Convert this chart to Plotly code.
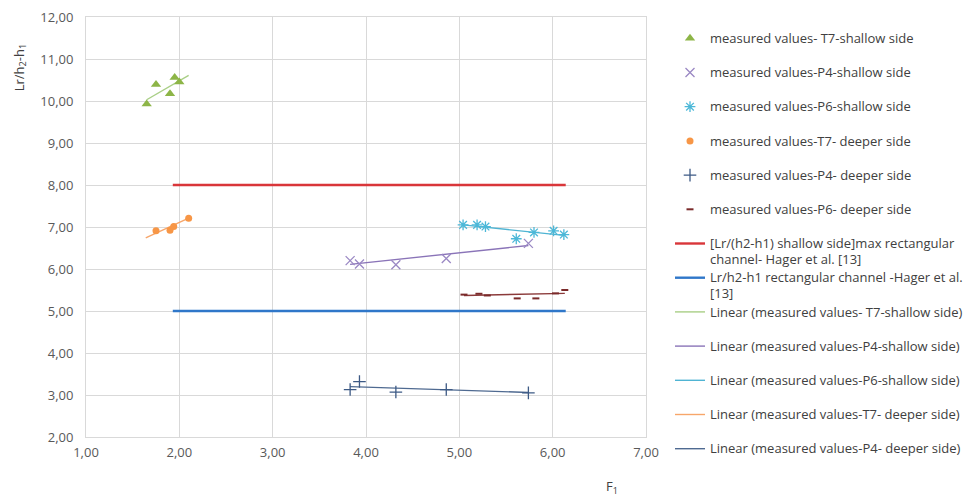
import plotly.graph_objects as go

# ---- data ----
t7s_x = [1.65, 1.75, 1.90, 1.95, 2.00]
t7s_y = [9.93, 10.39, 10.17, 10.56, 10.45]
t7s_tx = [1.65, 2.10]
t7s_ty = [10.03, 10.61]

p4s_x = [3.83, 3.93, 4.32, 4.86, 5.74]
p4s_y = [6.20, 6.12, 6.10, 6.25, 6.61]
p4s_tx = [3.83, 5.74]
p4s_ty = [6.11, 6.56]

p6s_x = [5.04, 5.19, 5.28, 5.61, 5.80, 6.01, 6.12]
p6s_y = [7.05, 7.05, 7.01, 6.72, 6.87, 6.91, 6.82]
p6s_tx = [5.04, 6.12]
p6s_ty = [7.05, 6.80]

t7d_x = [1.75, 1.90, 1.94, 2.10]
t7d_y = [6.91, 6.92, 7.01, 7.21]
t7d_tx = [1.64, 2.10]
t7d_ty = [6.74, 7.21]

p4d_x = [3.83, 3.93, 4.32, 4.86, 5.74]
p4d_y = [3.13, 3.32, 3.07, 3.13, 3.05]
p4d_tx = [3.83, 5.74]
p4d_ty = [3.20, 3.06]

p6d_x = [5.05, 5.21, 5.30, 5.62, 5.82, 6.03, 6.13]
p6d_y = [5.39, 5.41, 5.37, 5.30, 5.30, 5.42, 5.50]
p6d_tx = [5.05, 6.13]
p6d_ty = [5.37, 5.42]

ref_x = [1.93, 6.14]
ref_max_y = [8.0, 8.0]
ref_hager_y = [5.0, 5.0]

x_ticks = [1, 2, 3, 4, 5, 6, 7]
y_ticks = [2, 3, 4, 5, 6, 7, 8, 9, 10, 11, 12]

FONT = "Open Sans"
W, H = 964, 488   # page body has an 8px margin

def lab(t):
    return '<span style="font-size:13px">' + t + '</span>'

def one(t):
    return lab(t) + '<br>&nbsp;'

fig = go.Figure()

# trendlines (drawn underneath)
trend_specs = [
    (t7s_tx, t7s_ty, "#a9cf86", "Linear (measured values- T7-shallow side)", 9, True),
    (p4s_tx, p4s_ty, "#8a74b8", "Linear (measured values-P4-shallow side)", 10, True),
    (p6s_tx, p6s_ty, "#4fb4d3", "Linear (measured values-P6-shallow side)", 11, True),
    (t7d_tx, t7d_ty, "#f7a66a", "Linear (measured values-T7- deeper side)", 12, True),
    (p4d_tx, p4d_ty, "#4f6a91", "Linear (measured values-P4- deeper side)", 13, True),
    (p6d_tx, p6d_ty, "#8b3a3a", "Linear (measured values-P6- deeper side)", 14, False),
]
for tx, ty, col, name, rank, show in trend_specs:
    fig.add_trace(go.Scatter(x=tx, y=ty, mode="lines", name=one(name),
                             line=dict(color=col, width=1.4),
                             legendrank=rank, showlegend=show))

# reference lines
fig.add_trace(go.Scatter(x=ref_x, y=ref_max_y, mode="lines",
                         name=lab("[Lr/(h2-h1) shallow side]max rectangular") + "<br>" + lab("channel- Hager et al. [13]"),
                         line=dict(color="#d9363a", width=2.4), legendrank=7))
fig.add_trace(go.Scatter(x=ref_x, y=ref_hager_y, mode="lines",
                         name=lab("Lr/h2-h1 rectangular channel -Hager et al.") + "<br>" + lab("[13]"),
                         line=dict(color="#2f77c9", width=2.4), legendrank=8))

# measured points
fig.add_trace(go.Scatter(x=t7s_x, y=t7s_y, mode="markers", name=one("measured values- T7-shallow side"),
                         marker=dict(symbol="triangle-up", size=9, color="#8db547"), legendrank=1))
fig.add_trace(go.Scatter(x=p4s_x, y=p4s_y, mode="markers", name=one("measured values-P4-shallow side"),
                         marker=dict(symbol="x-thin-open", size=9, color="#9a88c4", line=dict(color="#9a88c4", width=1.3)), legendrank=2))
fig.add_trace(go.Scatter(x=p6s_x, y=p6s_y, mode="markers", name=one("measured values-P6-shallow side"),
                         marker=dict(symbol="asterisk-open", size=9, color="#4cb8d8", line=dict(color="#4cb8d8", width=1.3)), legendrank=3))
fig.add_trace(go.Scatter(x=t7d_x, y=t7d_y, mode="markers", name=one("measured values-T7- deeper side"),
                         marker=dict(symbol="circle", size=7, color="#f79646"), legendrank=4))
fig.add_trace(go.Scatter(x=p4d_x, y=p4d_y, mode="markers", name=one("measured values-P4- deeper side"),
                         marker=dict(symbol="cross-thin-open", size=9, color="#3d5a85", line=dict(color="#3d5a85", width=1.3)), legendrank=5))
fig.add_trace(go.Scatter(x=p6d_x, y=p6d_y, mode="markers", name=one("measured values-P6- deeper side"),
                         marker=dict(symbol="line-ew-open", size=5, color="#7a2a2a", line=dict(color="#7a2a2a", width=2)), legendrank=6))

axis_common = dict(showgrid=True, gridcolor="#d9d9d9", gridwidth=1, zeroline=False,
                   showline=True, linecolor="#d9d9d9", linewidth=1, mirror=True,
                   tickformat=".2f", ticks="", automargin=False, ticklabeloverflow="allow",
                   tickfont=dict(family=FONT, size=13, color="#595959"))

fig.update_layout(
    width=W, height=H,
    margin=dict(l=78, r=326, t=9, b=59, autoexpand=False),
    paper_bgcolor="white", plot_bgcolor="white",
    separators=",.",
    font=dict(family=FONT, color="#404040"),
    xaxis=dict(range=[1, 7], tickvals=x_ticks, ticklabelstandoff=3, **axis_common),
    yaxis=dict(range=[2, 12], tickvals=y_ticks, ticklabelstandoff=9, **axis_common),
    legend=dict(xref="container", yref="container", x=662 / W, y=1 - 16 / H,
                xanchor="left", yanchor="top", valign="top",
                font=dict(family=FONT, size=12, color="#404040"),
                bgcolor="rgba(0,0,0,0)", borderwidth=0, itemwidth=30,
                maxheight=480),
    showlegend=True,
    annotations=[
        dict(text="Lr/h<sub>2</sub>-h<sub>1</sub>", xref="paper", yref="paper",
             x=-0.118, y=0.88, textangle=-90, showarrow=False,
             font=dict(family=FONT, size=13, color="#404040"), xanchor="center", yanchor="middle"),
        dict(text="F<sub>1</sub>", xref="paper", yref="paper",
             x=(612 - 86) / 560, y=-0.118, showarrow=False,
             font=dict(family=FONT, size=13, color="#404040"), xanchor="center", yanchor="middle"),
    ],
)

fig.write_html("out.html")
